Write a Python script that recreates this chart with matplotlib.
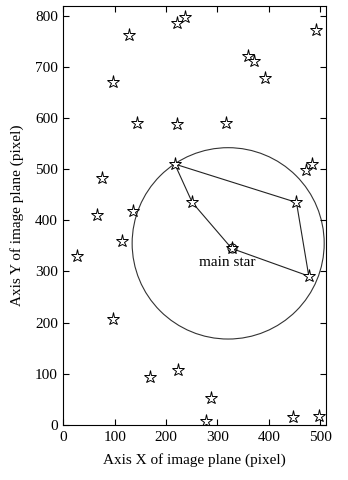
import matplotlib
matplotlib.use("Agg")
import matplotlib.pyplot as plt
from matplotlib.patches import Circle

plt.rcParams['font.family'] = ['Liberation Serif', 'DejaVu Serif']

# star positions (image plane pixels)
star_x = [127, 96, 143, 76, 66, 135, 114, 221, 237, 492, 360, 372, 393, 222, 317,
          217, 251, 454, 472, 485, 478, 224, 287, 278, 448, 497, 27, 96, 168]
star_y = [762, 671, 591, 483, 410, 418, 360, 786, 798, 772, 721, 711, 678, 588, 591,
          510, 435, 435, 498, 511, 291, 107, 52, 8, 16, 18, 330, 207, 93]

main_x, main_y = 328, 345

# pentagon of neighbour stars
poly_x = [217, 251, 328, 478, 454, 217]
poly_y = [510, 435, 345, 291, 435, 510]

circle_cx, circle_cy, circle_r = 321, 355, 187

fig = plt.figure(figsize=(3.48, 4.8), dpi=100)
ax = fig.add_axes([0.182, 0.1146, 0.754, 0.873])

ax.add_patch(Circle((circle_cx, circle_cy), circle_r, fill=False, color='#333333', lw=0.8))
ax.plot(poly_x, poly_y, color='#222222', lw=0.8)
ax.plot(star_x, star_y, linestyle='none', marker='*', ms=9.5, mfc='white', mec='black', mew=0.7)
ax.plot(main_x, main_y, linestyle='none', marker='*', ms=9.5, mfc='white', mec='black', mew=0.7)
ax.plot(main_x, main_y, linestyle='none', marker='o', ms=6.5, mfc='none', mec='black', mew=0.7)
ax.text(320, 317, 'main star', ha='center', va='center', fontsize=11)

ax.set_xlim(0, 511)
ax.set_ylim(0, 819)
ax.set_xticks([0, 100, 200, 300, 400, 500])
ax.set_yticks([0, 100, 200, 300, 400, 500, 600, 700, 800])
ax.tick_params(direction='in', top=True, right=True, labelsize=11, length=4, width=0.8, pad=4)
ax.set_xlabel('Axis X of image plane (pixel)', fontsize=11, labelpad=7)
ax.set_ylabel('Axis Y of image plane (pixel)', fontsize=11, labelpad=8)

plt.savefig('out.png', dpi=100)
